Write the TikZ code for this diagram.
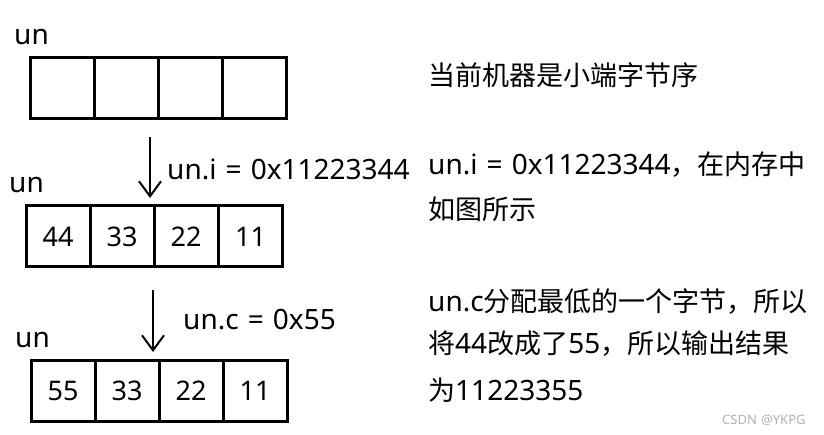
\documentclass[tikz,border=0pt]{standalone}
\usepackage{fontspec}
\setmainfont{Noto Sans}[WordSpace=1.25]
\newfontfamily\cjk{Noto Sans CJK SC}[Scale=0.965]
\usetikzlibrary{arrows.meta}
\tikzset{
  cell/.style={draw, line width=3pt, minimum width=64pt, minimum height=61pt, inner sep=0pt, font=\fontsize{27}{30}\selectfont},
  lbl/.style={anchor=base west, inner sep=0pt, font=\fontsize{28}{30}\selectfont},
  arr/.style={line width=2pt, -{Straight Barb[length=15pt,width=22pt,line width=2pt]}},
  wmark/.style={anchor=base west, inner sep=0pt, text=black!30, font=\fontsize{13}{15}\selectfont}
}
\begin{document}
\begin{tikzpicture}[x=1pt,y=-1pt]
\useasboundingbox (0,0) rectangle (824,435);
% box 1
\node[lbl] (un1) at (14,45) {un};
\node[cell] (a1) at (62,88.5) {};
\node[cell] (a2) at (126,88.5) {};
\node[cell] (a3) at (190,88.5) {};
\node[cell] (a4) at (254.5,88.5) {};
% box 2
\node[lbl] (un2) at (9,193) {un};
\node[cell] (b1) at (58,236.5) {44};
\node[cell] (b2) at (122,236.5) {33};
\node[cell] (b3) at (186,236.5) {22};
\node[cell] (b4) at (250.5,236.5) {11};
% box 3
\node[lbl] (un3) at (15,347) {un};
\node[cell] (c1) at (63,390.5) {55};
\node[cell] (c2) at (127,390.5) {33};
\node[cell] (c3) at (191,390.5) {22};
\node[cell] (c4) at (255,390.5) {11};
% arrows
\coordinate (s1) at (150,137);
\coordinate (e1) at (150,198);
\draw[arr] (s1) -- (e1);
\node[lbl] (t1) at (167,180) {un.i = 0x11223344};
\coordinate (s2) at (153,290);
\coordinate (e2) at (153,352);
\draw[arr] (s2) -- (e2);
\node[lbl] (t2) at (183,330) {un.c = 0x55};
% right text
\node[lbl] (r1) at (428,86) {\cjk 当前机器是小端字节序};
\node[lbl] (r2) at (428,175) {un.i = 0x11223344{\cjk ，在内存中}};
\node[lbl] (r3) at (428,220) {\cjk 如图所示};
\node[lbl] (r4) at (428,312) {un.c{\cjk 分配最低的一个字节，所以}};
\node[lbl] (r5) at (428,353) {{\cjk 将}44{\cjk 改成了}55{\cjk ，所以输出结果}};
\node[lbl] (r6) at (428,400) {{\cjk 为}11223355};
\node[wmark] (wm) at (722,424) {CSDN @YKPG};
\end{tikzpicture}
\end{document}
